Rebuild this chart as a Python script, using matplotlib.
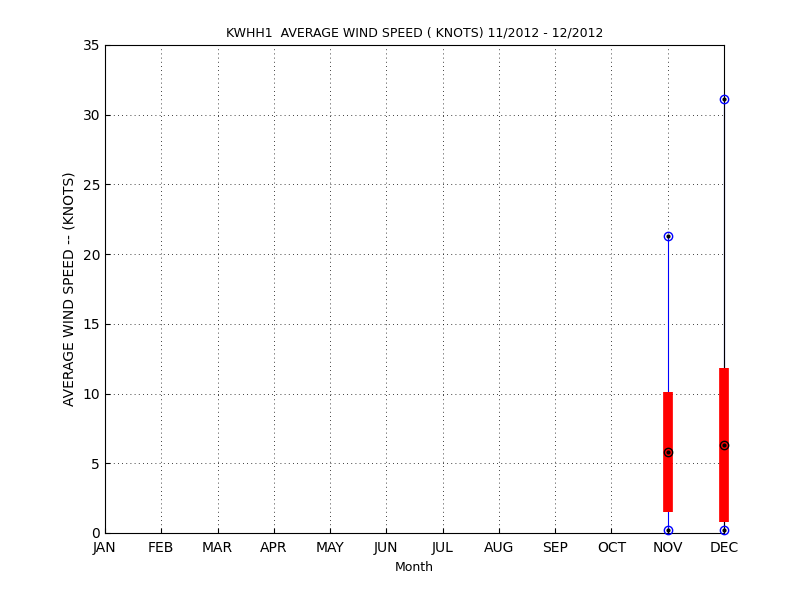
import matplotlib
matplotlib.use("Agg")
import matplotlib.pyplot as plt

months = ["JAN", "FEB", "MAR", "APR", "MAY", "JUN", "JUL", "AUG", "SEP", "OCT", "NOV", "DEC"]
box_month = [11, 12]
wmin = [0.2, 0.2]
q1 = [1.5, 0.8]
med = [5.8, 6.3]
q3 = [10.1, 11.8]
wmax = [21.3, 31.1]

fig = plt.figure(figsize=(8, 6), dpi=100)
ax = fig.add_axes([0.13125, 0.1117, 0.7738, 0.8133])
for x, lo, a, m, b, hi in zip(box_month, wmin, q1, med, q3, wmax):
    ax.plot([x, x], [lo, hi], color="blue", lw=0.8, zorder=2, clip_on=False)
    ax.plot([x, x], [a, b], color="red", lw=7, solid_capstyle="butt", zorder=3, clip_on=False)
    for y, c in [(lo, "blue"), (hi, "blue"), (m, "black")]:
        ax.plot(x, y, "o", mfc="none", mec=c, ms=6, mew=1, zorder=4, clip_on=False)
        ax.plot(x, y, ".", color="black", ms=4, zorder=5, clip_on=False)

ax.set_xlim(1, 12)
ax.set_ylim(0, 35)
ax.set_xticks(range(1, 13))
ax.set_xticklabels(months)
ax.set_yticks(range(0, 36, 5))
ax.grid(True, color="black", linestyle=(0, (1, 4)), lw=0.6)
ax.tick_params(direction="in", labelsize=10)
ax.tick_params(axis="x", pad=6)
ax.set_xlabel("Month", fontsize=9)
ax.set_ylabel("AVERAGE WIND SPEED -- (KNOTS)", fontsize=10)
ax.set_title("KWHH1  AVERAGE WIND SPEED ( KNOTS) 11/2012 - 12/2012", fontsize=9)
fig.savefig("out.png")
